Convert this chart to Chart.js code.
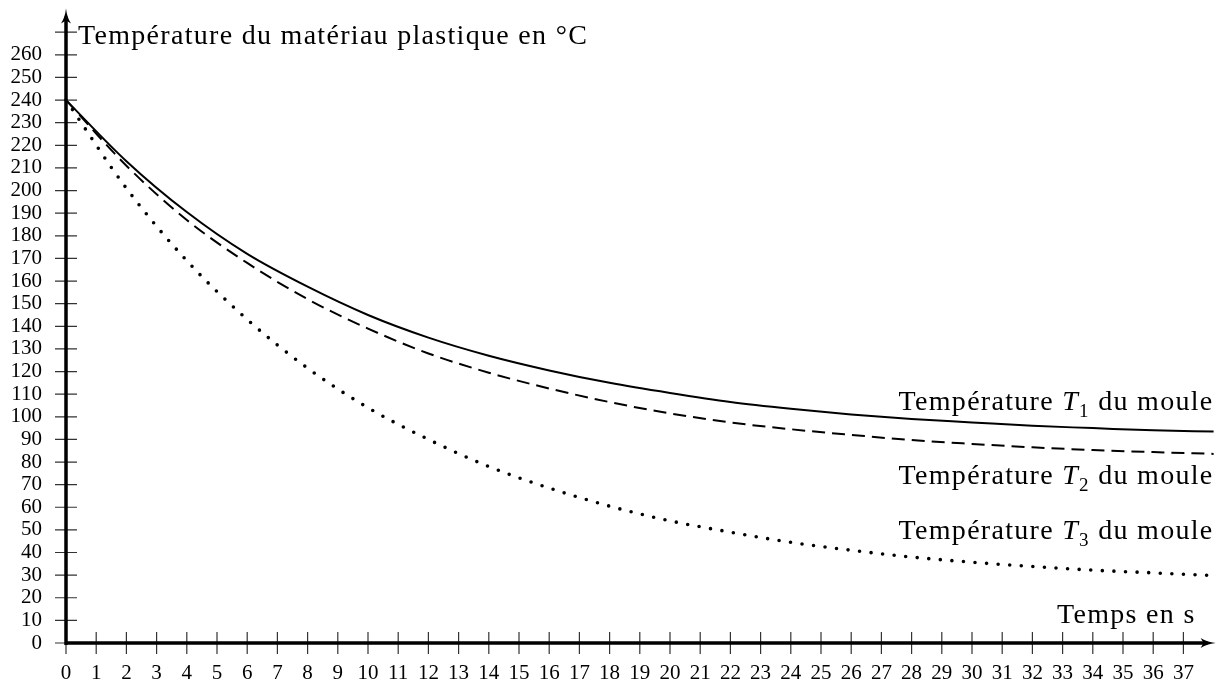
<!DOCTYPE html>
<html>
<head>
<meta charset="utf-8">
<title>Température du matériau plastique</title>
<script src="https://cdn.jsdelivr.net/npm/chart.js@4.4.0/dist/chart.umd.min.js"></script>
<style>
  html, body { margin: 0; padding: 0; background: #fff; }
</style>
</head>
<body>
<canvas id="cooling" width="1223" height="684"></canvas>
<script>
// temps en s
var times = [0, 2, 4, 6, 8, 10, 12, 14, 16, 18, 20, 22, 24, 26, 28, 30, 32, 34, 36, 38];
// température du matériau pour chaque température de moule
var tempT1 = [240, 213, 190.5, 172, 157.5, 145, 135, 127, 120.5, 115, 110.5, 106.5, 103.5, 101, 99, 97.5, 96, 95, 94, 93.5];
var tempT2 = [240, 211, 187, 168, 152, 139, 128, 119.5, 112.5, 106.5, 101.5, 97.5, 94.5, 92, 89.7, 88, 86.5, 85.3, 84.4, 83.6];
var tempT3 = [240, 201, 169, 143, 121.5, 104, 90, 78, 68.5, 60.5, 54, 49, 44.5, 41, 38, 35.7, 33.8, 32.2, 31, 29.8];
var moldIndex = ['1', '2', '3'];

var xMax = 38, xLastTick = 37;
var yMax = 280, yLastLabel = 260, yLastTick = 270;

var ROMAN = '28px "Liberation Serif"';
var ITALIC = 'italic 28px "Liberation Serif"';
var SUB = '19px "Liberation Serif"';

/////////////////////////////////////////////////////////////////////////////

function toPoints(xs, ys) {
    return xs.map(function (x, i) { return { x: x, y: ys[i] }; });
}

function richText(ctx, parts, right, baseline) {
    var w = 0;
    parts.forEach(function (p) { ctx.font = p[1]; w += ctx.measureText(p[0]).width; });
    var cx = right - w;
    parts.forEach(function (p) {
        ctx.font = p[1];
        ctx.fillText(p[0], cx, baseline + p[2]);
        cx += ctx.measureText(p[0]).width;
    });
}

function moldLabel(i) {
    return [['Température ', ROMAN, 0], ['T', ITALIC, 0], [moldIndex[i], SUB, 7], [' du moule', ROMAN, 0]];
}

/////////////////////////////////////////////////////////////////////////////

const axesPlugin = {
    id: 'axes',
    afterDatasetsDraw(chart) {
        const ctx = chart.ctx;
        const xs = chart.scales.x, ys = chart.scales.y;
        const x0 = xs.getPixelForValue(0), y0 = ys.getPixelForValue(0);
        const xTip = xs.right + 2, yTip = ys.top - 1;

        ctx.save();
        // petites graduations
        ctx.strokeStyle = '#333';
        ctx.lineWidth = 1.2;
        ctx.beginPath();
        for (let v = 0; v <= yLastTick; v += 10) {
            const py = ys.getPixelForValue(v);
            ctx.moveTo(x0 - 11, py); ctx.lineTo(x0 + 11, py);
        }
        for (let t = 0; t <= xLastTick; t++) {
            const px = xs.getPixelForValue(t);
            ctx.moveTo(px, y0 - 11); ctx.lineTo(px, y0 + 11);
        }
        ctx.stroke();

        // axes
        ctx.strokeStyle = '#000';
        ctx.lineWidth = 3.5;
        ctx.beginPath();
        ctx.moveTo(x0, y0 + 2); ctx.lineTo(x0, yTip + 8);
        ctx.moveTo(x0 - 1.7, y0); ctx.lineTo(xTip - 8, y0);
        ctx.stroke();

        // flèches
        ctx.fillStyle = '#000';
        ctx.beginPath();
        ctx.moveTo(x0, yTip);
        ctx.quadraticCurveTo(x0 + 1, yTip + 9, x0 + 5, yTip + 15);
        ctx.lineTo(x0, yTip + 12);
        ctx.lineTo(x0 - 5, yTip + 15);
        ctx.quadraticCurveTo(x0 - 1, yTip + 9, x0, yTip);
        ctx.fill();
        ctx.beginPath();
        ctx.moveTo(xTip, y0);
        ctx.quadraticCurveTo(xTip - 9, y0 + 1, xTip - 15, y0 + 5);
        ctx.lineTo(xTip - 12, y0);
        ctx.lineTo(xTip - 15, y0 - 5);
        ctx.quadraticCurveTo(xTip - 9, y0 - 1, xTip, y0);
        ctx.fill();

        // textes
        ctx.letterSpacing = '1.3px';
        ctx.textBaseline = 'alphabetic';
        ctx.textAlign = 'left';
        ctx.font = ROMAN;
        ctx.fillText('Température du matériau plastique en °C', x0 + 12, 44);
        richText(ctx, moldLabel(0), xs.right, 410);
        richText(ctx, moldLabel(1), xs.right, 484);
        richText(ctx, moldLabel(2), xs.right, 539);
        richText(ctx, [['Temps en s', ROMAN, 0]], xs.right - 18, 623);
        ctx.restore();
    }
};

/////////////////////////////////////////////////////////////////////////////

const lineBase = {
    borderColor: '#000',
    pointRadius: 0,
    cubicInterpolationMode: 'monotone',
    fill: false,
    clip: false
};

const config = {
    type: 'line',
    data: {
        datasets: [
            Object.assign({ label: 'T1', data: toPoints(times, tempT1), borderWidth: 2 }, lineBase),
            Object.assign({ label: 'T2', data: toPoints(times, tempT2), borderWidth: 2, borderDash: [13, 7] }, lineBase),
            Object.assign({ label: 'T3', data: toPoints(times, tempT3), borderWidth: 3.6, borderDash: [0, 11.6], borderCapStyle: 'round' }, lineBase)
        ]
    },
    options: {
        responsive: false,
        devicePixelRatio: 1,
        animation: false,
        layout: { padding: { top: 9.6, right: 9.4, left: 0, bottom: 0 } },
        plugins: { legend: { display: false }, tooltip: { enabled: false } },
        scales: {
            x: {
                type: 'linear',
                min: 0,
                max: xMax,
                grid: { display: false, drawTicks: false },
                border: { display: false },
                afterFit: function (scale) {
                    scale.height = 41;
                    scale.paddingLeft = 0; scale.paddingRight = 0;
                },
                ticks: {
                    stepSize: 1,
                    autoSkip: false,
                    maxRotation: 0,
                    padding: 18,
                    color: '#000',
                    font: { family: '"Liberation Serif"', size: 21 },
                    callback: function (v) { return v <= xLastTick ? v : null; }
                }
            },
            y: {
                min: 0,
                max: yMax,
                grid: { display: false, drawTicks: false },
                border: { display: false },
                afterFit: function (scale) {
                    scale.width = 66;
                    scale.paddingTop = 0; scale.paddingBottom = 0;
                },
                ticks: {
                    stepSize: 10,
                    autoSkip: false,
                    padding: 24,
                    color: '#000',
                    font: { family: '"Liberation Serif"', size: 21 },
                    callback: function (v) { return v <= yLastLabel ? v : null; }
                }
            }
        }
    },
    plugins: [axesPlugin]
};

const cooling = new Chart(document.getElementById('cooling'), config);
</script>
</body>
</html>
